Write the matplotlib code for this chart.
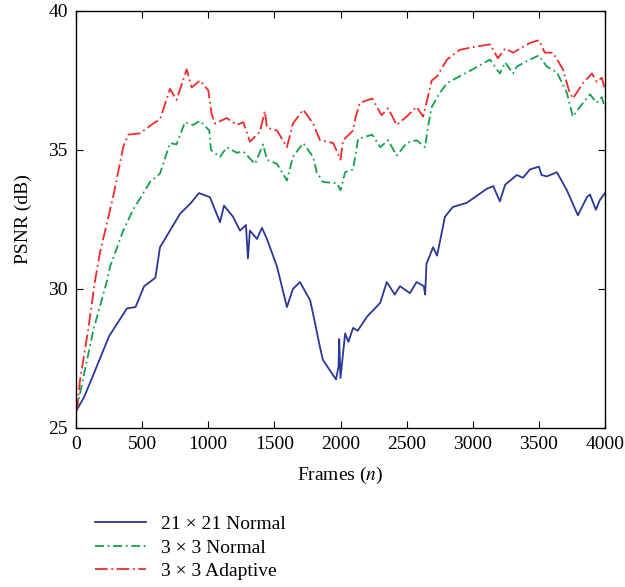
import matplotlib
matplotlib.use("Agg")
from matplotlib import pyplot as plt

plt.rcParams['font.family'] = ['Liberation Serif', 'DejaVu Serif']
plt.rcParams['mathtext.fontset'] = 'stix'

# 21 x 21 Normal (frame, PSNR)
frames_21n = [0, 60, 130, 250, 385, 450, 515, 600, 635, 786, 870, 930, 1013, 1089, 1119,
              1187, 1240, 1285, 1300, 1315, 1368, 1406, 1444, 1520, 1595, 1640, 1693, 1770,
              1793, 1845, 1867, 1930, 1966, 1985, 1990, 2000, 2035, 2060, 2095, 2130, 2200,
              2300, 2350, 2410, 2450, 2525, 2575, 2630, 2640, 2650, 2700, 2730, 2790, 2850,
              2955, 3105, 3155, 3205, 3245, 3333, 3380, 3432, 3500, 3520, 3560, 3636, 3712,
              3795, 3863, 3886, 3931, 3961, 4000]
psnr_21n = [25.6, 26.1, 26.9, 28.3, 29.3, 29.35, 30.1, 30.4, 31.5, 32.7, 33.1, 33.45, 33.3,
            32.4, 33.0, 32.6, 32.1, 32.3, 31.1, 32.1, 31.8, 32.2, 31.8, 30.8, 29.35, 30.0,
            30.25, 29.6, 29.1, 27.9, 27.45, 27.0, 26.75, 27.2, 28.2, 26.8, 28.4, 28.1, 28.6,
            28.5, 29.0, 29.5, 30.25, 29.8, 30.1, 29.85, 30.25, 30.1, 29.8, 30.9, 31.5, 31.2,
            32.6, 32.95, 33.1, 33.6, 33.7, 33.15, 33.75, 34.1, 34.0, 34.3, 34.4, 34.1, 34.05,
            34.2, 33.55, 32.65, 33.3, 33.4, 32.85, 33.2, 33.45]

# 3 x 3 Normal
frames_3n = [0, 15, 130, 235, 257, 357, 432, 560, 635, 711, 760, 824, 887, 937, 1008, 1020,
             1089, 1140, 1215, 1265, 1353, 1415, 1444, 1520, 1595, 1640, 1718, 1793, 1820,
             1867, 1973, 2000, 2035, 2095, 2133, 2240, 2300, 2360, 2425, 2500, 2575, 2640,
             2660, 2690, 2750, 2805, 2900, 3000, 3130, 3205, 3245, 3305, 3333, 3432, 3500,
             3560, 3636, 3712, 3757, 3810, 3886, 3938, 3976, 4000]
psnr_3n = [25.6, 25.9, 28.5, 30.3, 30.8, 32.1, 32.85, 33.85, 34.15, 35.25, 35.2, 36.0, 35.9,
           36.05, 35.7, 35.0, 34.75, 35.1, 34.9, 34.95, 34.5, 35.2, 34.65, 34.5, 33.9, 34.75,
           35.25, 34.75, 34.2, 33.85, 33.8, 33.55, 34.2, 34.3, 35.4, 35.55, 35.1, 35.35, 34.8,
           35.25, 35.35, 35.1, 35.8, 36.55, 37.05, 37.4, 37.65, 37.9, 38.25, 37.75, 38.15,
           37.75, 38.0, 38.25, 38.4, 38.0, 37.8, 37.05, 36.2, 36.55, 37.0, 36.7, 36.9, 36.5]

# 3 x 3 Adaptive
frames_3a = [0, 8, 30, 91, 144, 181, 280, 357, 394, 484, 583, 635, 711, 760, 837, 875, 937,
             1000, 1025, 1050, 1140, 1215, 1265, 1315, 1390, 1428, 1444, 1520, 1595, 1640,
             1718, 1793, 1845, 1945, 2000, 2020, 2095, 2115, 2147, 2240, 2310, 2360, 2425,
             2500, 2575, 2625, 2650, 2690, 2730, 2805, 2900, 3000, 3130, 3190, 3245, 3305,
             3432, 3500, 3545, 3606, 3682, 3727, 3757, 3833, 3901, 3938, 3976, 4000]
psnr_3a = [25.6, 25.7, 26.7, 28.5, 30.3, 31.3, 33.3, 35.1, 35.55, 35.6, 35.95, 36.1, 37.2,
           36.8, 37.9, 37.25, 37.5, 37.15, 36.3, 35.95, 36.15, 35.9, 36.0, 35.3, 35.65, 36.4,
           35.8, 35.7, 35.1, 35.95, 36.45, 35.95, 35.35, 35.25, 34.65, 35.35, 35.7, 36.2,
           36.7, 36.85, 36.25, 36.5, 35.9, 36.2, 36.55, 36.2, 36.7, 37.5, 37.65, 38.25, 38.6,
           38.7, 38.8, 38.3, 38.65, 38.5, 38.85, 38.95, 38.5, 38.5, 37.9, 37.15, 36.85, 37.4,
           37.75, 37.45, 37.6, 37.15]

labels = [u'21 \u00d7 21 Normal', u'3 \u00d7 3 Normal', u'3 \u00d7 3 Adaptive']

fig = plt.figure(figsize=(6.25, 5.87), dpi=100)
ax = fig.add_axes([0.1216, 0.2709, 0.8464, 0.7104])

l1, = ax.plot(frames_21n, psnr_21n, color='#2b3798', lw=1.3, label=labels[0])
l2, = ax.plot(frames_3n, psnr_3n, color='#14a04e', lw=1.3, dashes=(5, 2, 1, 2), label=labels[1])
l3, = ax.plot(frames_3a, psnr_3a, color='#ee2a2a', lw=1.3, dashes=(7, 2, 1, 2), label=labels[2])

ax.set_xlim(0, 4000)
ax.set_ylim(25, 40)
ax.set_xticks(range(0, 4001, 500))
ax.set_yticks([25, 30, 35, 40])
ax.tick_params(direction='in', top=True, right=True, length=5, labelsize=14, pad=6)
for s in ax.spines.values():
    s.set_linewidth(1.0)

ax.set_xlabel('Frames ($n$)', fontsize=14, labelpad=8)
ax.set_ylabel('PSNR (dB)', fontsize=14, labelpad=12)

fig.legend(handles=[l1, l2, l3], loc='upper left', bbox_to_anchor=(0.14, 0.135),
           frameon=False, fontsize=14, handlelength=2.6, handletextpad=0.8,
           labelspacing=0.3, borderaxespad=0)

fig.savefig('out.png', dpi=100)
